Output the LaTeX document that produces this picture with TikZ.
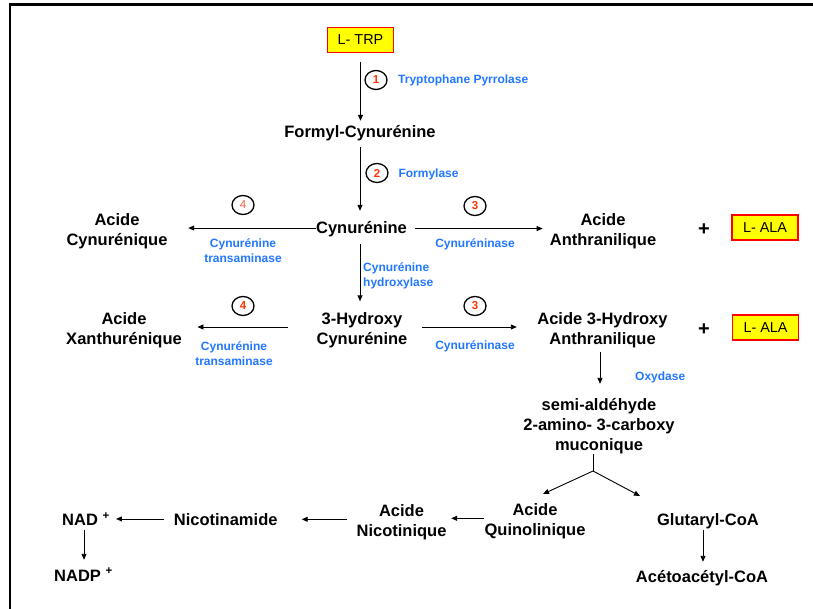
\documentclass[tikz,border=0pt]{standalone}
\usepackage{fontspec}
\setmainfont{Liberation Sans}
\usetikzlibrary{arrows.meta,shapes.geometric}
\definecolor{enzblue}{RGB}{34,119,255}
\definecolor{stepred}{RGB}{255,51,0}
\definecolor{steporange}{RGB}{255,90,60}
\definecolor{boxyellow}{RGB}{255,255,0}
\definecolor{boxred}{RGB}{255,0,0}

\begin{document}
\begin{tikzpicture}[x=1pt,y=-1pt,
  mol/.style={font=\fontsize{16.5}{20}\selectfont\bfseries, inner sep=0pt},
  mol1/.style={mol, text height=12pt, text depth=3.5pt, anchor=base},
  molm/.style={mol, align=center},
  enz/.style={font=\fontsize{12}{15}\selectfont\bfseries, text=enzblue, inner sep=0pt},
  num/.style={ellipse, draw, line width=1.3pt, minimum width=22pt, minimum height=19pt,
    inner sep=0pt, font=\fontsize{11.5}{12}\selectfont\bfseries, text=stepred},
  aa/.style={draw=boxred, fill=boxyellow, line width=1.6pt, minimum width=66pt,
    minimum height=25pt, inner sep=0pt, font=\fontsize{14.4}{16}\selectfont},
  arr/.style={-{Triangle[length=6pt,width=5pt]}, line width=0.9pt},
  plus/.style={font=\fontsize{20}{20}\selectfont\bfseries, inner sep=0pt}
]
\useasboundingbox (0,0) rectangle (813,609);

% open frame: top and left rules
\draw[line width=2.5pt] (10,615) -- (10,4.5) -- (820,4.5);

% metabolites
\node[aa] (trp) at (360.5,40) {L- TRP};
\node[mol1] (formyl) at (360,138) {Formyl-Cynurénine};
\node[mol1] (cyn) at (361.5,233.8) {Cynurénine};
\node[molm] (cynq) at (117,230.8) {Acide\\Cynurénique};
\node[molm] (anth) at (603,230.8) {Acide\\Anthranilique};
\node[plus] (plus1) at (704,230) {+};
\node[aa] (ala1) at (765,227.5) {L- ALA};
\node[molm] (hcyn) at (362,330) {3-Hydroxy\\Cynurénine};
\node[molm] (xan) at (124,330) {Acide\\Xanthurénique};
\node[molm] (hanth) at (602.5,330.3) {Acide 3-Hydroxy\\Anthranilique};
\node[plus] (plus2) at (704,330) {+};
\node[aa] (ala2) at (765.5,327.5) {L- ALA};
\node[molm] (semi) at (599,426.5) {semi-aldéhyde\\2-amino- 3-carboxy\\muconique};
\node[molm] (quin) at (535,520.8) {Acide\\Quinolinique};
\node[mol1] (glut) at (708,525) {Glutaryl-CoA};
\node[mol1] (aceto) at (702,582.3) {Acétoacétyl-CoA};
\node[molm] (nicq) at (401.5,521.8) {Acide\\Nicotinique};
\node[mol1] (nicam) at (225.7,525.7) {Nicotinamide};
\node[mol1] (nad) at (86,525.7) {NAD \textsuperscript{+}};
\node[mol1] (nadp) at (83.5,581) {NADP \textsuperscript{+}};

% enzymes
\node[enz, anchor=base west] (e1) at (398,84) {Tryptophane Pyrrolase};
\node[enz, anchor=base west] (e2) at (398.3,177.3) {Formylase};
\node[enz, anchor=base] (e3a) at (475,247.3) {Cynuréninase};
\node[enz, align=center, anchor=north] (e4a) at (243,238.3) {Cynurénine\\transaminase};
\node[enz, align=left, anchor=north west] (eh) at (363,262.7) {Cynurénine\\hydroxylase};
\node[enz, align=center, anchor=north] (e4b) at (234,341) {Cynurénine\\transaminase};
\node[enz, anchor=base] (e3b) at (475,349.3) {Cynuréninase};
\node[enz, anchor=base west] (eox) at (635,380.7) {Oxydase};

% step numbers
\node[num] (n1) at (376,80) {1};
\node[num] (n2) at (377,173) {2};
\node[num, font=\fontsize{11.5}{12}\selectfont, text=steporange] (n4a) at (243,205) {4};
\node[num] (n3a) at (475,206) {3};
\node[num] (n4b) at (243,306) {4};
\node[num] (n3b) at (475,306) {3};

% branch point and branch targets
\coordinate (br) at (593,471);
\coordinate (qtip) at (543,494);
\coordinate (gtip) at (640,496);

% reactions
\draw[arr, shorten <=9pt, shorten >=5pt] (trp.south) -- (trp.south |- formyl.north);
\draw[arr, shorten <=5.5pt, shorten >=10.8pt] (formyl.south) -- (formyl.south |- cyn.north);
\draw[arr, shorten <=6.7pt, shorten >=10.8pt] ([xshift=-1.5pt]cyn.south) -- ([xshift=-1.5pt]cyn.south |- hcyn.north);
\draw[arr, shorten >=20.6pt] ([yshift=1.5pt]cyn.west) -- ([yshift=1.5pt]cyn.west -| cynq.east);
\draw[arr, shorten <=8pt, shorten >=7pt] ([yshift=1pt]cyn.east) -- ([yshift=1pt]cyn.east -| anth.west);
\draw[arr, shorten <=28.6pt, shorten >=15.5pt] ([yshift=3pt]hcyn.west) -- ([yshift=3pt]hcyn.west -| xan.east);
\draw[arr, shorten <=14.6pt, shorten >=20.4pt] ([yshift=3pt]hcyn.east) -- ([yshift=3pt]hcyn.east -| hanth.west);
\draw[arr, shorten <=4.2pt, shorten >=14.7pt] ([xshift=-2.5pt]hanth.south) -- ([xshift=-2.5pt]hanth.south |- semi.north);
\draw[line width=0.9pt] (semi.south -| br) -- (br);
\draw[arr] (br) -- (qtip);
\draw[arr] (br) -- (gtip);
\draw[arr, shorten >=4.6pt] ([yshift=2.5pt]quin.west) -- ([yshift=2.5pt]quin.west -| nicq.east);
\draw[arr, shorten <=9.6pt, shorten >=24pt] ([yshift=2.5pt]nicq.west) -- ([yshift=2.5pt]nicq.west -| nicam.east);
\draw[arr, shorten <=10pt, shorten >=6pt] ([yshift=2.5pt]nicam.west) -- ([yshift=2.5pt]nicam.west -| nad.east);
\draw[arr, shorten <=1pt, shorten >=9pt] ([xshift=-2pt]nad.south) -- ([xshift=-2pt]nad.south |- nadp.north);
\draw[arr, shorten <=1.5pt, shorten >=8.3pt] ([xshift=-5pt]glut.south) -- ([xshift=-5pt]glut.south |- aceto.north);
\end{tikzpicture}
\end{document}
